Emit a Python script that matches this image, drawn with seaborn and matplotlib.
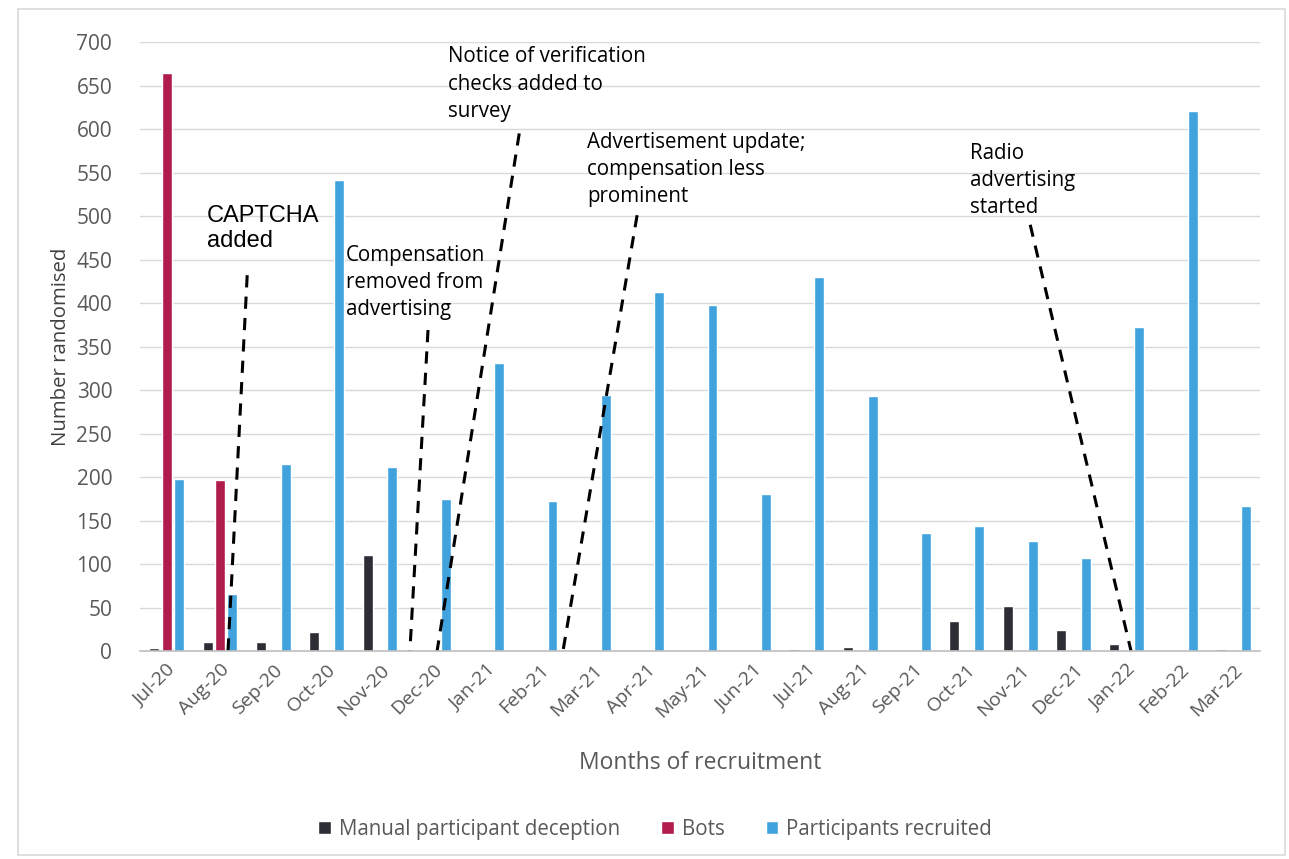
import matplotlib
matplotlib.use("Agg")
import matplotlib.pyplot as plt
import seaborn as sns
import pandas as pd
import numpy as np
from matplotlib.patches import Rectangle

months = ["Jul-20", "Aug-20", "Sep-20", "Oct-20", "Nov-20", "Dec-20", "Jan-21",
          "Feb-21", "Mar-21", "Apr-21", "May-21", "Jun-21", "Jul-21", "Aug-21",
          "Sep-21", "Oct-21", "Nov-21", "Dec-21", "Jan-22", "Feb-22", "Mar-22"]
manual = [4, 10, 10, 22, 110, 0, 0, 0, 0, 0, 0, 0, 2, 5, 0, 35, 52, 24, 8, 0, 2]
bots = [665, 197, 0, 0, 0, 0, 0, 0, 0, 0, 0, 0, 0, 0, 0, 0, 0, 0, 0, 0, 0]
recruited = [198, 65, 215, 542, 212, 175, 331, 173, 294, 413, 398, 181, 430, 293,
             136, 144, 127, 107, 373, 621, 167]
series_names = ["Manual participant deception", "Bots", "Participants recruited"]
colors = ["#2D2D35", "#B01C4C", "#41A3DE"]

ann_texts = ["CAPTCHA\nadded",
             "Compensation\nremoved from\nadvertising",
             "Notice of verification\nchecks added to\nsurvey",
             "Advertisement update;\ncompensation less\nprominent",
             "Radio\nadvertising\nstarted"]
ann_text_xy = [(0.76, 513), (3.36, 467), (5.28, 695), (7.88, 597), (15.06, 584)]
ann_line_start = [(1.51, 432), (4.90, 369), (6.61, 595), (8.82, 501), (16.19, 490)]
ann_line_end = [(1.15, 0), (4.56, 0), (5.07, 0), (7.43, 0), (18.08, 0)]

df = pd.DataFrame({
    "Month": months * 3,
    "Series": sum([[s] * len(months) for s in series_names], []),
    "Value": manual + bots + recruited,
})

sns.set_theme(style="white")
plt.rcParams["font.family"] = ["Open Sans", "DejaVu Sans"]

fig = plt.figure(figsize=(12.89, 8.59), dpi=100)
ax = fig.add_axes([0.1086, 0.2421, 0.869, 0.7089])

sns.barplot(data=df, x="Month", y="Value", hue="Series", hue_order=series_names,
            palette=colors, order=months, width=0.7, saturation=1, ax=ax,
            legend=True, errorbar=None)

# narrow each bar around its center (Excel-like gaps)
for p in ax.patches:
    if isinstance(p, Rectangle) and 0 < p.get_width() < 1:
        w = p.get_width()
        cx = p.get_x() + w / 2
        nw = w * 0.8
        p.set_x(cx - nw / 2)
        p.set_width(nw)

ax.set_ylim(0, 700)
ax.set_xlim(-0.5, len(months) - 0.5)
ax.set_yticks(np.arange(0, 701, 50))
ax.yaxis.grid(True, color="#D9D9D9", linewidth=1)
ax.set_axisbelow(True)
for s in ["top", "right", "left"]:
    ax.spines[s].set_visible(False)
ax.spines["bottom"].set_color("#BFBFBF")
ax.spines["bottom"].set_linewidth(1.2)

ax.tick_params(axis="y", length=0, labelsize=15, labelcolor="#595959", pad=20)
ax.tick_params(axis="x", which="major", length=0, labelsize=14, labelcolor="#595959", pad=7)
ax.set_xticks(np.arange(-0.5, len(months), 1), minor=True)
ax.tick_params(axis="x", which="minor", length=7, color="#BFBFBF", width=1.2)
plt.setp(ax.get_xticklabels(), rotation=45, ha="right", rotation_mode="anchor")

ax.set_xlabel("Months of recruitment", fontsize=16.5, color="#595959", labelpad=22)
ax.set_ylabel("Number randomised", fontsize=14.7, color="#404040", labelpad=4)

for i, t in enumerate(ann_texts):
    fam = ["Liberation Sans", "DejaVu Sans"] if i == 0 else ["Open Sans", "DejaVu Sans"]
    fs = 17 if i == 0 else 14.8
    ls = 1.2 if i == 0 else 1.38
    ax.text(ann_text_xy[i][0], ann_text_xy[i][1], t, fontsize=fs, family=fam,
            color="black", ha="left", va="top", linespacing=ls)
    ax.plot([ann_line_start[i][0], ann_line_end[i][0]],
            [ann_line_start[i][1], ann_line_end[i][1]],
            color="black", linestyle=(0, (4, 3)), linewidth=2.2, clip_on=False)

leg = ax.legend(loc="upper center", bbox_to_anchor=(0.46, -0.245), ncol=3, frameon=False,
                fontsize=14.8, handlelength=0.6, handleheight=0.6, handletextpad=0.4,
                columnspacing=2.0)
for txt in leg.get_texts():
    txt.set_color("#595959")

# outer chart border
fig.patches.append(Rectangle((0.014, 0.005), 0.983, 0.985, transform=fig.transFigure,
                             fill=False, edgecolor="#D9D9D9", linewidth=1.2))

fig.savefig("out.png", dpi=100)
